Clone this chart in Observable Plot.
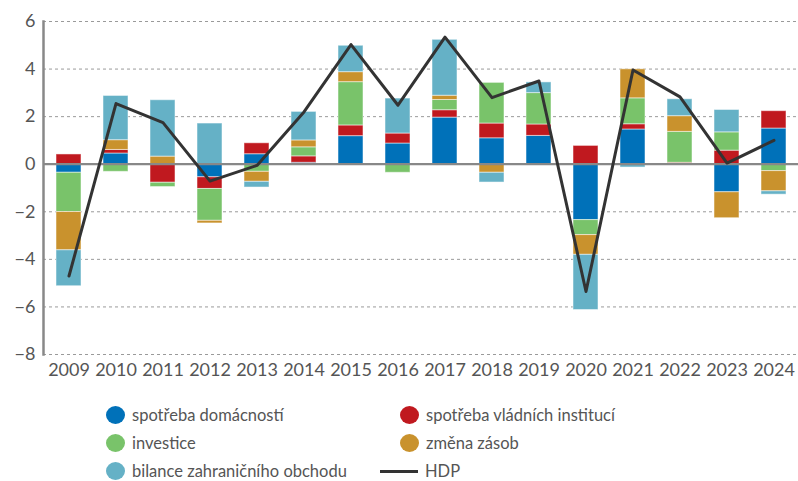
<!DOCTYPE html>
<html>
<head>
<meta charset="utf-8">
<script src="https://cdn.jsdelivr.net/npm/d3@7"></script>
<script src="https://cdn.jsdelivr.net/npm/@observablehq/plot@0.6"></script>
<style>
  body { margin: 0; background: #fff; font-family: Lato, "Open Sans", sans-serif; }
  #chart svg { display: block; }
  .legend { position: relative; height: 91px; font-size: 16.5px; color: #555; }
  .item { position: absolute; display: flex; align-items: center; height: 18px; line-height: 18px; white-space: nowrap; }
  .sw { width: 19px; height: 18px; border-radius: 50%; margin-right: 7px; }
  .ln { width: 38px; height: 3px; background: #333; margin-right: 7px; }
</style>
</head>
<body>
<div id="chart"></div>
<div class="legend" id="legend"></div>
<script>
const years = ["2009","2010","2011","2012","2013","2014","2015","2016","2017","2018","2019","2020","2021","2022","2023","2024"];
const seriesNames = ["spotřeba domácností","spotřeba vládních institucí","investice","změna zásob","bilance zahraničního obchodu"];
const seriesColors = ["#0071b9","#c0191f","#79c36a","#c9922d","#65b1c6"];
const household = [-0.36, 0.45, 0.00, -0.55, 0.42, 0.06, 1.18, 0.87, 1.96, 1.09, 1.19, -2.35, 1.46, 0.00, -1.18, 1.50];
const government = [0.41, 0.15, -0.78, -0.49, 0.46, 0.27, 0.45, 0.42, 0.31, 0.62, 0.48, 0.77, 0.22, 0.06, 0.57, 0.73];
const investment = [-1.65, -0.32, -0.18, -1.34, -0.32, 0.38, 1.82, -0.36, 0.43, 1.71, 1.32, -0.63, 1.09, 1.30, 0.77, -0.29];
const inventories = [-1.61, 0.41, 0.32, -0.11, -0.42, 0.29, 0.42, 0.00, 0.18, -0.36, 0.00, -0.83, 1.22, 0.66, -1.09, -0.85];
const netExports = [-1.51, 1.86, 2.37, 1.71, -0.24, 1.20, 1.11, 1.47, 2.35, -0.41, 0.45, -2.32, -0.14, 0.71, 0.94, -0.14];
const gdp = [-4.7, 2.55, 1.75, -0.71, -0.05, 2.2, 5.03, 2.48, 5.34, 2.8, 3.5, -5.35, 3.96, 2.83, 0.05, 1.0];
const yTicks = [-8, -6, -4, -2, 0, 2, 4, 6];
const lineLabel = "HDP";

const seriesValues = [household, government, investment, inventories, netExports];
const bars = [];
seriesNames.forEach((s, i) => years.forEach((y, j) => bars.push({year: y, series: s, value: seriesValues[i][j]})));
const gdpData = years.map((y, j) => ({year: y, value: gdp[j]}));

const chart = Plot.plot({
  width: 798,
  height: 390,
  marginTop: 21,
  marginBottom: 36,
  marginLeft: 43,
  marginRight: 0,
  style: {fontFamily: "Lato, 'Open Sans', sans-serif", fontSize: "17px", color: "#555"},
  x: {domain: years, paddingInner: 0.47, paddingOuter: 0.235, label: null},
  y: {domain: [-8, 6], label: null},
  color: {domain: seriesNames, range: seriesColors},
  marks: [
    Plot.gridY(yTicks, {stroke: "#9a9a9a", strokeOpacity: 1, strokeDasharray: "3,3", strokeWidth: 1}),
    Plot.barY(bars, {x: "year", y: "value", fill: "series", stroke: "white", strokeOpacity: 0.5, strokeWidth: 1}),
    Plot.ruleY([0], {stroke: "#888", strokeWidth: 2.2}),
    Plot.frame({anchor: "left", stroke: "#888", strokeWidth: 2.5}),
    Plot.line(gdpData, {x: "year", y: "value", stroke: "#333", strokeWidth: 3}),
    Plot.axisY(yTicks, {tickSize: 0, tickPadding: 8, fontSize: 18, fill: "#555", label: null}),
    Plot.axisX({tickSize: 0, tickPadding: 9, fontSize: 18, fill: "#555", label: null})
  ]
});
document.getElementById("chart").appendChild(chart);

const legendItems = [
  {label: seriesNames[0], color: seriesColors[0], col: 0, row: 0},
  {label: seriesNames[1], color: seriesColors[1], col: 1, row: 0},
  {label: seriesNames[2], color: seriesColors[2], col: 0, row: 1},
  {label: seriesNames[3], color: seriesColors[3], col: 1, row: 1},
  {label: seriesNames[4], color: seriesColors[4], col: 0, row: 2},
  {label: lineLabel, line: true, col: 1, row: 2}
];
const legend = document.getElementById("legend");
legendItems.forEach(it => {
  const d = document.createElement("div");
  d.className = "item";
  d.style.top = (16 + it.row * 28) + "px";
  d.style.left = it.line ? "380px" : (it.col === 0 ? "106px" : "400px");
  const m = document.createElement("div");
  if (it.line) { m.className = "ln"; } else { m.className = "sw"; m.style.background = it.color; }
  d.appendChild(m);
  const t = document.createElement("span");
  t.textContent = it.label;
  d.appendChild(t);
  legend.appendChild(d);
});
</script>
</body>
</html>
